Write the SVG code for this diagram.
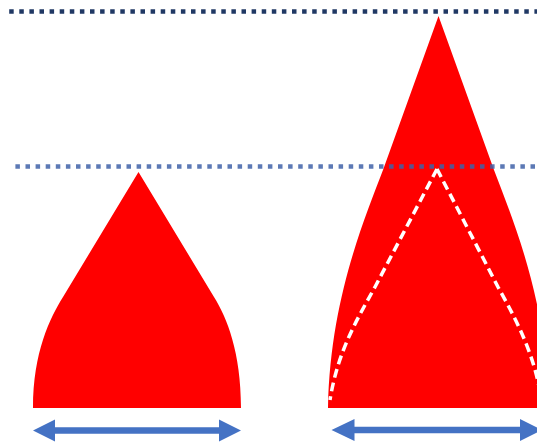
<svg xmlns="http://www.w3.org/2000/svg" width="537" height="446" viewBox="0 0 537 446">
  <style>
    .drop { fill: #FF0000; }
    .inner { fill: none; stroke: #FFFFFF; stroke-width: 3.5; stroke-dasharray: 9 5; }
    .arrow { fill: #4472C4; }
    .lvl-top { stroke: #203864; stroke-width: 4.5; stroke-dasharray: 4.5 5.6; fill: none; }
    .lvl-mid { stroke: #3F62A8; stroke-opacity: 0.85; stroke-width: 4.5; stroke-dasharray: 4.5 5.6; fill: none; }
  </style>
  <rect width="537" height="446" fill="#FFFFFF"/>
  <g id="drop-small">
    <path class="drop" d="M138.5,172 L63,297 C50,318 33,352 33,408 L241,408 C241,352 227,318 214,297 Z"/>
  </g>
  <g id="drop-large">
    <path class="drop" d="M438.5,16 L383,170 C364,220 330,300 328,408 L549,408 C547,300 513,220 494,170 Z"/>
    <path class="inner" d="M437,169 L375,287 C358,318 338,350 330,400"/>
    <path class="inner" d="M437,169 L498,287 C513,314 533,350 540,392"/>
  </g>
  <g id="levels">
    <line class="lvl-top" x1="9.2" y1="11.5" x2="537" y2="11.5"/>
    <line class="lvl-mid" x1="15.4" y1="166.6" x2="537" y2="166.6"/>
  </g>
  <g id="arrows">
    <polygon class="arrow" points="33,430.5 55,419.5 55,427.2 219,427.2 219,419.5 241,430.5 219,441.5 219,433.8 55,433.8 55,441.5"/>
    <polygon class="arrow" points="331.5,430 354.5,419 354.5,426.7 520,426.7 520,419 542,430 520,441 520,433.3 354.5,433.3 354.5,441"/>
  </g>
</svg>
